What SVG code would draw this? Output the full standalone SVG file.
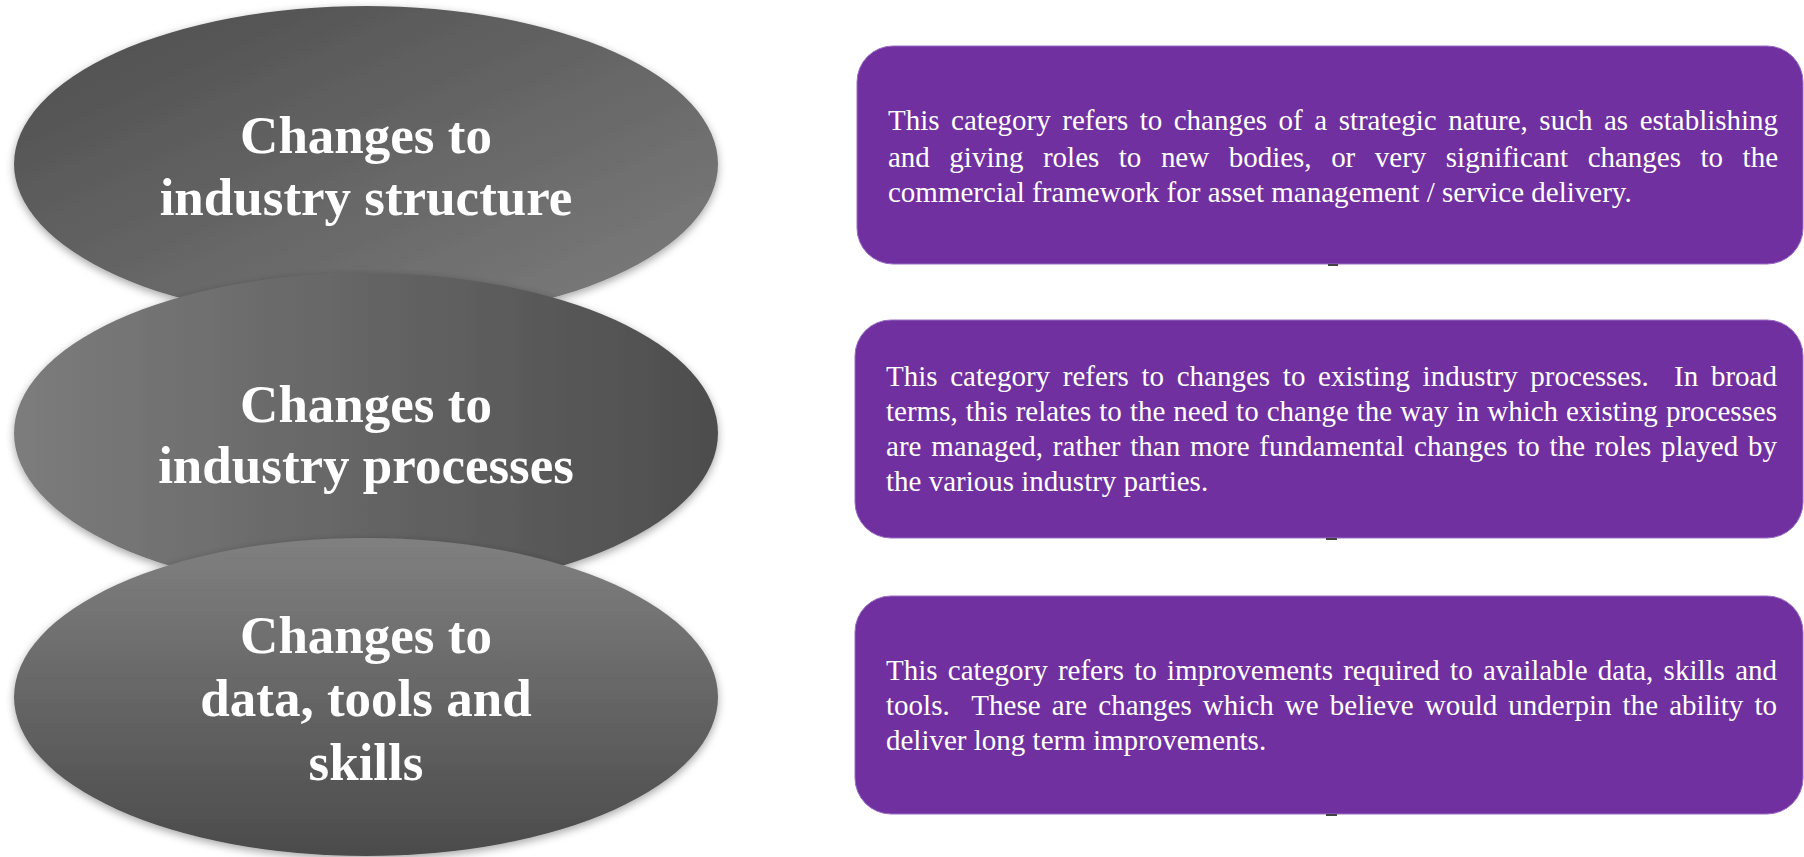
<svg xmlns="http://www.w3.org/2000/svg" width="1804" height="857" viewBox="0 0 1804 857">
<defs>
<linearGradient id="g1" x1="0" y1="0" x2="1" y2="1"><stop offset="0" stop-color="#4c4c4c"/><stop offset="1" stop-color="#7e7e7e"/></linearGradient>
<linearGradient id="g2" x1="0" y1="0" x2="1" y2="0"><stop offset="0" stop-color="#7c7c7c"/><stop offset="1" stop-color="#4d4d4d"/></linearGradient>
<linearGradient id="g3" x1="0" y1="0" x2="0" y2="1"><stop offset="0" stop-color="#808080"/><stop offset="1" stop-color="#4b4b4b"/></linearGradient>
<filter id="sh" x="-5%" y="-5%" width="110%" height="115%"><feDropShadow dx="0" dy="3" stdDeviation="4" flood-color="#000" flood-opacity="0.35"/></filter>
<style>
.title{font-family:"Liberation Serif","Times New Roman",serif;font-weight:bold;font-size:53px;fill:#fff;text-anchor:middle}
.box{fill:#7030a0;stroke:#9a6cc4;stroke-width:1}
.body{font-family:"Liberation Serif","Times New Roman",serif;font-size:29px;fill:#fff}
.mark{fill:#444}
</style>
</defs>
<g id="node-structure">
<ellipse cx="366" cy="164" rx="352" ry="158" fill="url(#g1)" filter="url(#sh)"/>
<text class="title" x="366" y="153">Changes to</text>
<text class="title" x="366" y="215">industry structure</text>
</g>
<g id="node-processes">
<ellipse cx="366" cy="433" rx="352" ry="160" fill="url(#g2)" filter="url(#sh)"/>
<text class="title" x="366" y="422">Changes to</text>
<text class="title" x="366" y="483">industry processes</text>
</g>
<g id="node-data">
<ellipse cx="366" cy="697" rx="352" ry="159" fill="url(#g3)" filter="url(#sh)"/>
<text class="title" x="366" y="653">Changes to</text>
<text class="title" x="366" y="716">data, tools and</text>
<text class="title" x="366" y="780">skills</text>
</g>
<g id="box-structure">
<rect class="box" x="857" y="46" width="946" height="218" rx="36" ry="36"/>
<text class="body" x="888" y="130" xml:space="preserve" word-spacing="4.3" textLength="890" lengthAdjust="spacing">This category refers to changes of a strategic nature, such as establishing</text>
<text class="body" x="888" y="167" xml:space="preserve" word-spacing="12.3" textLength="890" lengthAdjust="spacing">and giving roles to new bodies, or very significant changes to the</text>
<text class="body" x="888" y="202" xml:space="preserve">commercial framework for asset management / service delivery.</text>
</g>
<g id="box-processes">
<rect class="box" x="855" y="320" width="948" height="218" rx="36" ry="36"/>
<text class="body" x="886" y="386" xml:space="preserve" word-spacing="5.4" textLength="891" lengthAdjust="spacing">This category refers to changes to existing industry processes.  In broad</text>
<text class="body" x="886" y="421" xml:space="preserve" word-spacing="0.8" textLength="891" lengthAdjust="spacing">terms, this relates to the need to change the way in which existing processes</text>
<text class="body" x="886" y="456" xml:space="preserve" word-spacing="2.5" textLength="891" lengthAdjust="spacing">are managed, rather than more fundamental changes to the roles played by</text>
<text class="body" x="886" y="491" xml:space="preserve">the various industry parties.</text>
</g>
<g id="box-data">
<rect class="box" x="855" y="596" width="948" height="218" rx="36" ry="36"/>
<text class="body" x="886" y="680" xml:space="preserve" word-spacing="3" textLength="891" lengthAdjust="spacing">This category refers to improvements required to available data, skills and</text>
<text class="body" x="886" y="715" xml:space="preserve" word-spacing="3.8" textLength="891" lengthAdjust="spacing">tools.  These are changes which we believe would underpin the ability to</text>
<text class="body" x="886" y="750" xml:space="preserve">deliver long term improvements.</text>
</g>
<g id="connectors">
<rect class="mark" x="1328" y="264" width="10" height="2"/>
<rect class="mark" x="1326" y="538" width="11" height="2"/>
<rect class="mark" x="1326" y="814" width="11" height="2"/>
</g>
</svg>
